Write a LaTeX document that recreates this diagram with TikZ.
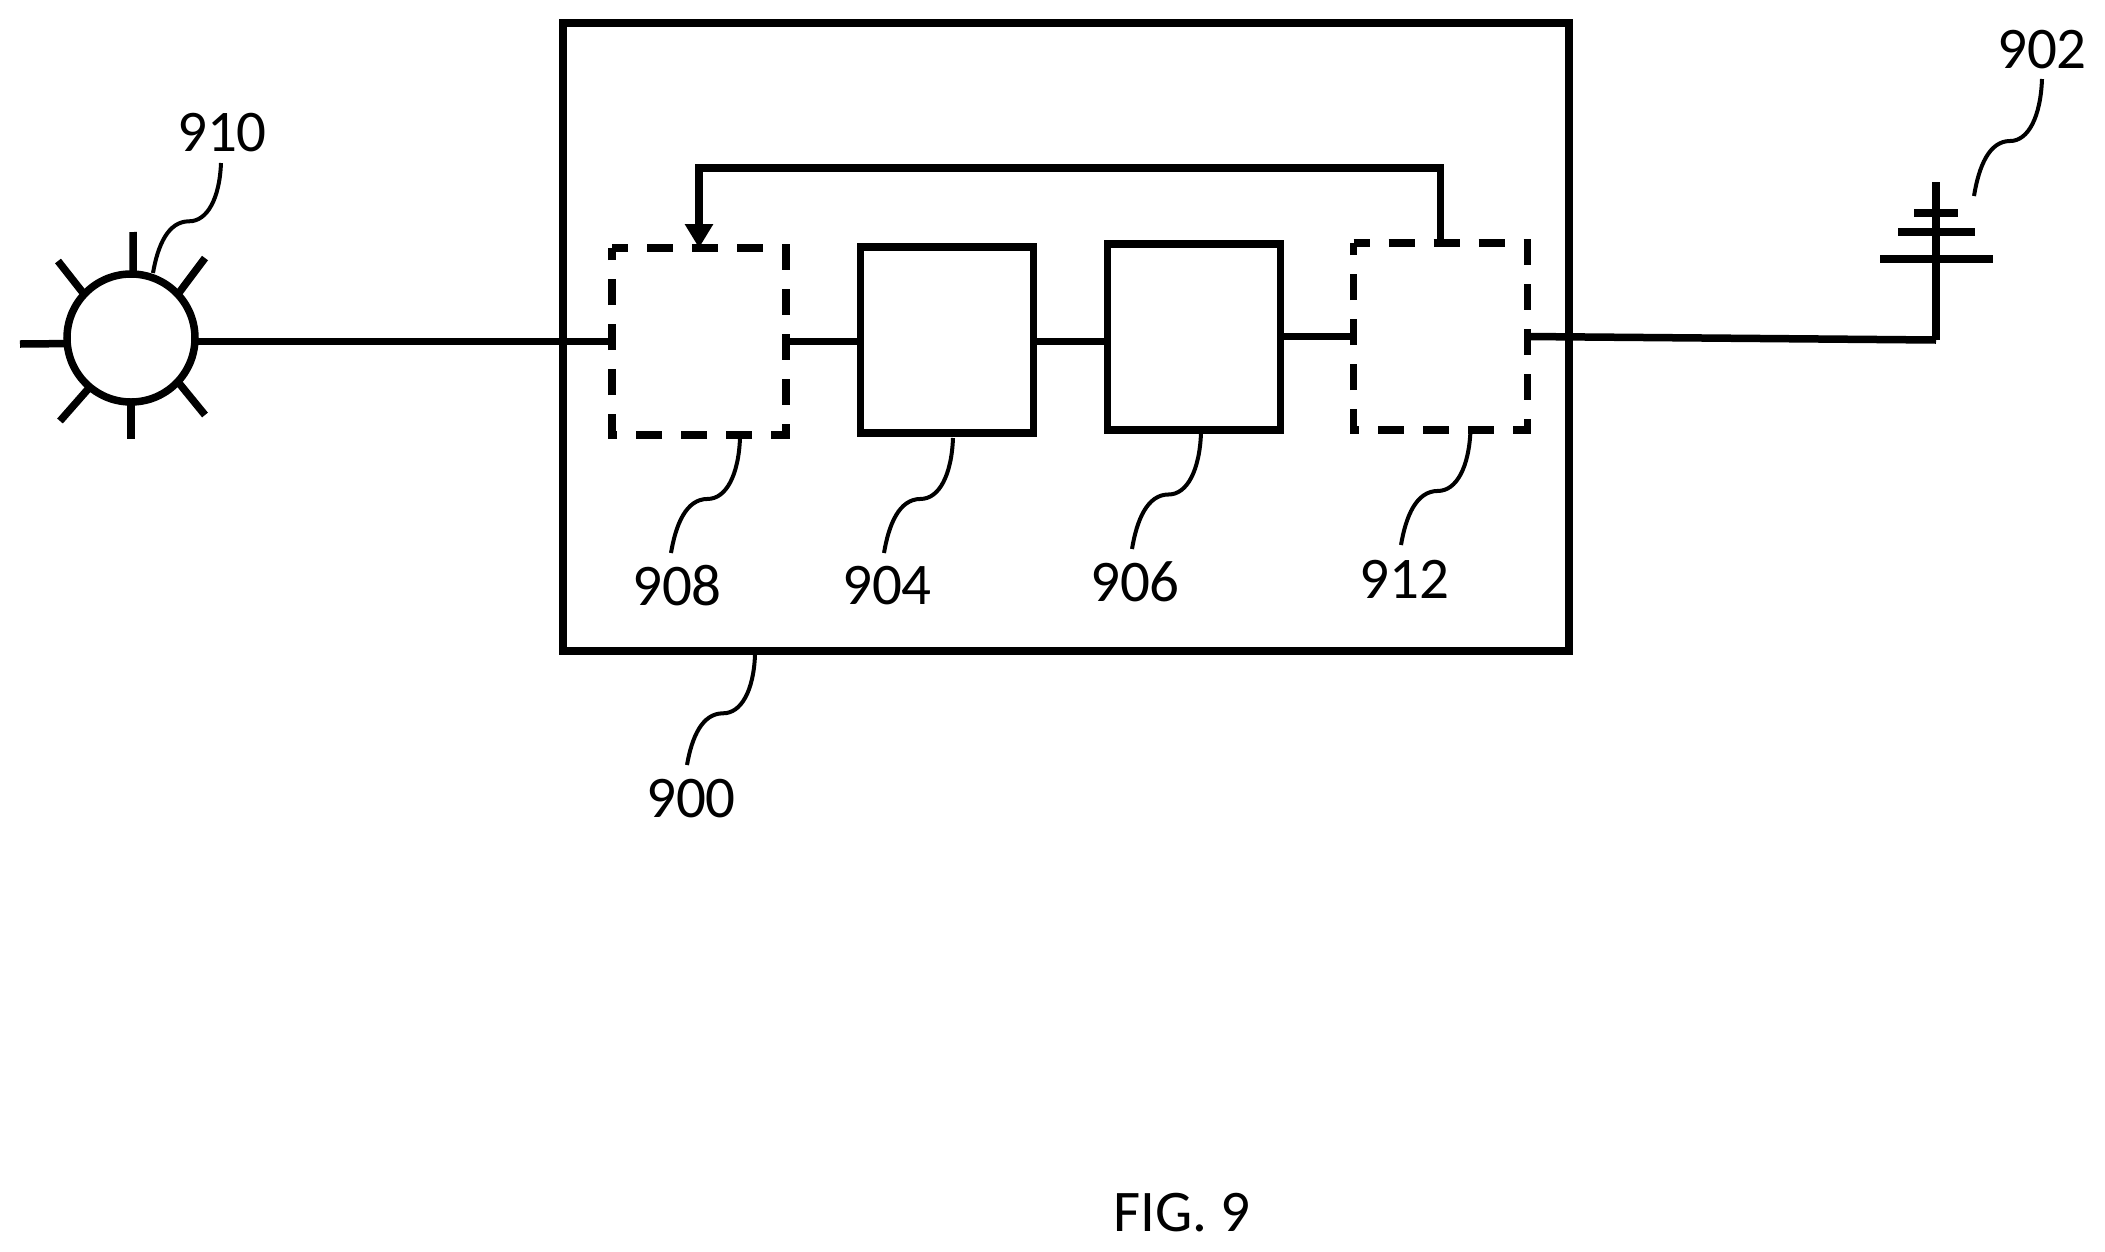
\documentclass[tikz,border=0pt]{standalone}
\usepackage{fontspec}
\setmainfont{Carlito}
\usetikzlibrary{arrows.meta,calc}
\newcommand{\leaderline}[2]{%
  \draw[leaderstyle] let \p1=(#1),\p2=(#2),\n1={\x2-\x1},\n2={\y2-\y1} in
    (\p1) .. controls ({\x1+0.02*\n1},{\y1+0.32*\n2}) and ({\x1+0.20*\n1},{\y1+0.53*\n2}) ..
    ({\x1+0.47*\n1},{\y1+0.53*\n2}) .. controls ({\x1+0.78*\n1},{\y1+0.53*\n2}) and ({\x1+0.93*\n1},{\y1+0.75*\n2}) .. (\p2);}
\tikzset{
  x=1pt,y=-1pt,
  every node/.style={inner sep=0pt,outer sep=0pt},
  wire/.style={line width=7.5pt,black},
  ray/.style={line width=7.5pt,black},
  leaderstyle/.style={line width=4pt,black},
  solidbox/.style={draw,line width=7.5pt,minimum width=173pt,minimum height=186pt},
  ghostbox/.style={minimum width=174pt,minimum height=187pt},
  dashedge/.style={line width=7.5pt,black,dash pattern=on 26pt off 19pt,dash phase=10pt},
  reflabel/.style={font=\fontsize{59}{60}\selectfont},
  sunbody/.style={circle,draw,line width=7.5pt,minimum size=128pt},
  outerbox/.style={draw,line width=7.5pt,minimum width=1006pt,minimum height=628pt},
}
\begin{document}
\begin{tikzpicture}
\useasboundingbox (0,0) rectangle (2105,1251);
\fill[white] (0,0) rectangle (2105,1251);

% main box and inner blocks
\node[outerbox] (main) at (1066,337) {};
\node[ghostbox] (d908) at (699,341.5) {};
\node[solidbox] (b904) at (947,340) {};
\node[solidbox] (b906) at (1194,337) {};
\node[ghostbox] (d912) at (1440.5,336.5) {};
\draw[dashedge] (d908.north west) -- (d908.north east) -- (d908.south east) -- (d908.south west) -- cycle;
\draw[dashedge] (d912.north west) -- (d912.north east) -- (d912.south east) -- (d912.south west) -- cycle;

% sun
\node[sunbody] (sun) at (131,338) {};
\coordinate (r1) at (133,232);
\coordinate (r2) at (205,258);
\coordinate (r3) at (205,415);
\coordinate (r4) at (131,439);
\coordinate (r5) at (60,421);
\coordinate (r6) at (20,344);
\coordinate (r7) at (58,261);
\draw[ray] (sun.88) -- (r1);
\draw[ray] (sun.43) -- (r2);
\draw[ray] (sun.317) -- (r3);
\draw[ray] (sun.270) -- (r4);
\draw[ray] (sun.230) -- (r5);
\draw[ray] (sun.185) -- (r6);
\draw[ray] (sun.137) -- (r7);

% antenna
\coordinate (anttop) at (1936,182);
\coordinate (antfoot) at (1936,340);
\coordinate (a1l) at (1914,213);
\coordinate (a1r) at (1958,213);
\coordinate (a2l) at (1898,232);
\coordinate (a2r) at (1975,232);
\coordinate (a3l) at (1880,259);
\coordinate (a3r) at (1993,259);
\draw[wire] (anttop) -- (antfoot);
\draw[wire] (a1l) -- (a1r);
\draw[wire] (a2l) -- (a2r);
\draw[wire] (a3l) -- (a3r);

% connectors
\draw[wire] (sun.east |- d908.west) -- (d908.west);
\draw[wire] (d908.east) -- (b904.west |- d908.east);
\draw[wire] (b904.east |- d908.east) -- (b906.west |- d908.east);
\draw[wire] (b906.east |- d912.west) -- (d912.west);
\draw[wire] (d912.east) -- (antfoot);
\coordinate (fb) at (1070,168);
\draw[wire,-{Triangle[length=24pt,width=27pt]}] (d912.north) |- (fb) -| (d908.north);

% labels
\node[reflabel] (l910) at (222,132.5) {910};
\node[reflabel] (l902) at (2042,49.5) {902};
\node[reflabel] (l908) at (677,586) {908};
\node[reflabel] (l904) at (887,586) {904};
\node[reflabel] (l906) at (1135,582) {906};
\node[reflabel] (l912) at (1404.5,579) {912};
\node[reflabel] (l900) at (691,799) {900};
\node[reflabel] (figlabel) at (1182,1213) {FIG. 9};

% leader lines
\coordinate (t910) at (221,163); \coordinate (e910) at (153,273);
\coordinate (t902) at (2042,79); \coordinate (e902) at (1974,196);
\coordinate (t908) at (740,438); \coordinate (e908) at (671,553);
\coordinate (t904) at (953,438); \coordinate (e904) at (884,553);
\coordinate (t906) at (1201,433); \coordinate (e906) at (1132,549);
\coordinate (t912) at (1470.5,430); \coordinate (e912) at (1401,545);
\coordinate (t900) at (755,655); \coordinate (e900) at (687,765);
\leaderline{t910}{e910}
\leaderline{t902}{e902}
\leaderline{t908}{e908}
\leaderline{t904}{e904}
\leaderline{t906}{e906}
\leaderline{t912}{e912}
\leaderline{t900}{e900}
\end{tikzpicture}
\end{document}
